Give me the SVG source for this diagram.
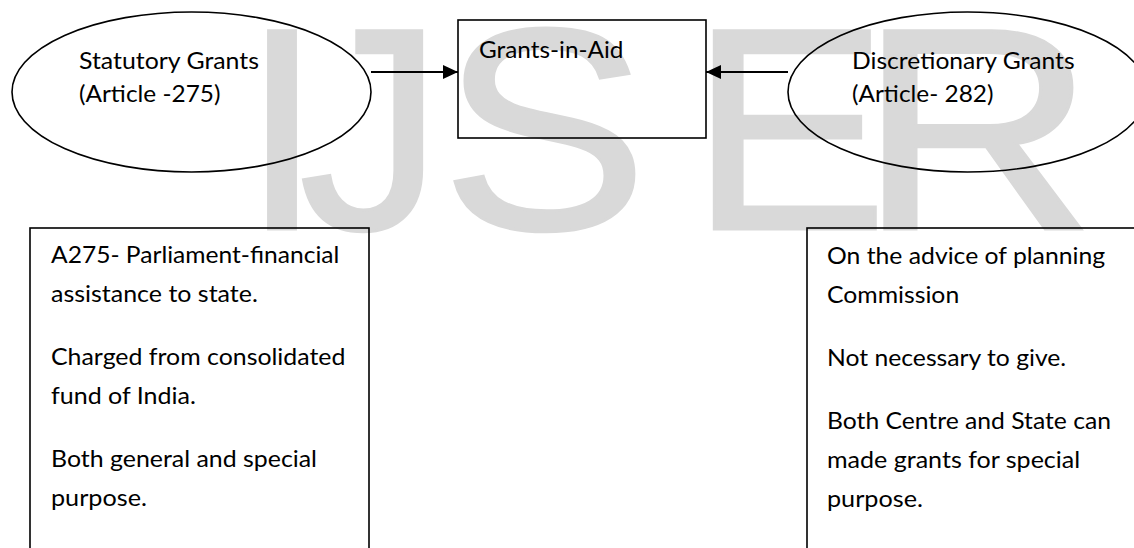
<svg xmlns="http://www.w3.org/2000/svg" width="1134" height="548" viewBox="0 0 1134 548">
<style>
.t{font-family:"Lato","Open Sans",sans-serif;font-size:24px;fill:#000}
.s{fill:none;stroke:#000;stroke-width:1.6}
.c{stroke:#000;stroke-width:2;fill:none}
.wm{font-family:"Liberation Sans",Arial,sans-serif;font-size:288px;fill:#d9d9d9;stroke:#d9d9d9;stroke-width:3}
</style>
<defs>
<marker id="ah" markerUnits="userSpaceOnUse" markerWidth="16" markerHeight="16" refX="15" refY="7" orient="auto">
<path d="M0,0 L15,7 L0,14 Z" fill="#000"/>
</marker>
</defs>
<rect width="1134" height="548" fill="#fff"/>
<g id="watermark">
<text class="wm" x="242" y="229">I</text>
<text class="wm" x="299" y="229">J</text>
<text class="wm" x="441" y="229" textLength="207" lengthAdjust="spacingAndGlyphs">S</text>
<text class="wm" x="690" y="229" textLength="198" lengthAdjust="spacingAndGlyphs">E</text>
<text class="wm" x="858" y="229" textLength="238" lengthAdjust="spacingAndGlyphs">R</text>
</g>
<g id="connectors">
<line class="c" x1="371" y1="72" x2="458" y2="72" marker-end="url(#ah)"/>
<line class="c" x1="788" y1="72" x2="706" y2="72" marker-end="url(#ah)"/>
</g>
<g id="statutory">
<ellipse class="s" cx="191.5" cy="92" rx="179.5" ry="80"/>
<text class="t" x="79" y="69" textLength="180" lengthAdjust="spacingAndGlyphs">Statutory Grants</text>
<text class="t" x="79" y="101.5" textLength="141.5" lengthAdjust="spacingAndGlyphs">(Article -275)</text>
</g>
<g id="grants-in-aid">
<rect class="s" x="458" y="20" width="248" height="118"/>
<text class="t" x="479" y="58" textLength="144.4" lengthAdjust="spacingAndGlyphs">Grants-in-Aid</text>
</g>
<g id="discretionary">
<ellipse class="s" cx="967.5" cy="92" rx="179.5" ry="80"/>
<text class="t" x="852" y="69" textLength="222.6" lengthAdjust="spacingAndGlyphs">Discretionary Grants</text>
<text class="t" x="852" y="101.5" textLength="141.5" lengthAdjust="spacingAndGlyphs">(Article- 282)</text>
</g>
<g id="statutory-details">
<rect class="s" x="30" y="228" width="339" height="340"/>
<text class="t" x="51" y="263" textLength="288.4" lengthAdjust="spacingAndGlyphs">A275- Parliament-financial</text>
<text class="t" x="51" y="302" textLength="206.8" lengthAdjust="spacingAndGlyphs">assistance to state.</text>
<text class="t" x="51" y="365" textLength="294.4" lengthAdjust="spacingAndGlyphs">Charged from consolidated</text>
<text class="t" x="51" y="404" textLength="144.9" lengthAdjust="spacingAndGlyphs">fund of India.</text>
<text class="t" x="51" y="467" textLength="266" lengthAdjust="spacingAndGlyphs">Both general and special</text>
<text class="t" x="51" y="506" textLength="95.9" lengthAdjust="spacingAndGlyphs">purpose.</text>
</g>
<g id="discretionary-details">
<rect class="s" x="807" y="228" width="400" height="340"/>
<text class="t" x="827" y="264" textLength="278.1" lengthAdjust="spacingAndGlyphs">On the advice of planning</text>
<text class="t" x="827" y="303" textLength="132.2" lengthAdjust="spacingAndGlyphs">Commission</text>
<text class="t" x="827" y="366" textLength="239.2" lengthAdjust="spacingAndGlyphs">Not necessary to give.</text>
<text class="t" x="827" y="429" textLength="284" lengthAdjust="spacingAndGlyphs">Both Centre and State can</text>
<text class="t" x="827" y="468" textLength="253.2" lengthAdjust="spacingAndGlyphs">made grants for special</text>
<text class="t" x="827" y="507" textLength="95.9" lengthAdjust="spacingAndGlyphs">purpose.</text>
</g>
</svg>
